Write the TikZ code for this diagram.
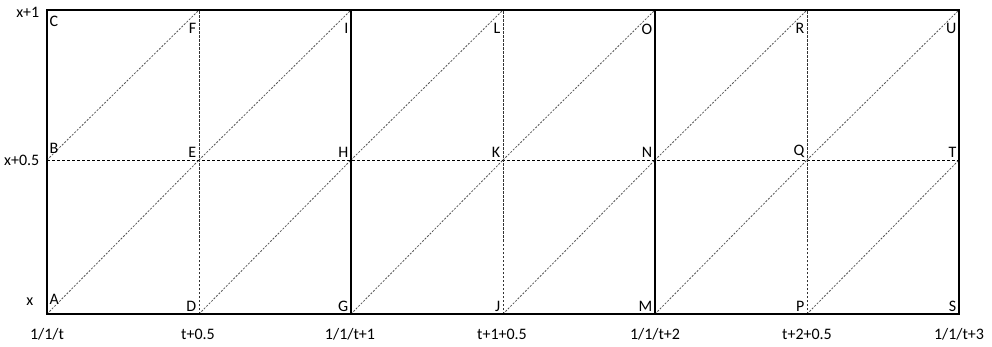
\documentclass[tikz,border=0pt]{standalone}
\usepackage{fontspec}
\setmainfont{Carlito}
\usetikzlibrary{positioning}
\definecolor{DiagGray}{RGB}{85,85,85}

\begin{document}
\begin{tikzpicture}[x=1pt,y=-1pt,
  lbl/.style={font=\fontsize{16}{18}\selectfont,inner sep=2.5pt},
  frame/.style={line width=1.8pt},
  half/.style={line width=0.7pt,dash pattern=on 3pt off 2pt},
  mid/.style={black!80,line width=0.7pt,dash pattern=on 2.5pt off 1.5pt},
  diag/.style={DiagGray,line width=0.8pt,dash pattern=on 2pt off 1.5pt}]
\useasboundingbox (0,0) rectangle (992,347);
% grid points, bottom / middle / top
\foreach \b/\m/\t [count=\i from 0] in {A/B/C,D/E/F,G/H/I,J/K/L,M/N/O,P/Q/R,S/T/U}{
  \coordinate (\b) at ({47+152*\i},314);
  \coordinate (\m) at ({47+152*\i},160);
  \coordinate (\t) at ({47+152*\i},10);
}
% lines
\draw[diag] (A)--(E) (B)--(F) (D)--(H) (E)--(I) (G)--(K) (H)--(L)
  (J)--(N) (K)--(O) (M)--(Q) (N)--(R) (P)--(T) (Q)--(U);
\draw[half] (B)--(T);
\draw[mid] (D)--(F) (J)--(L) (P)--(R);
\draw[frame] (G)--(I) (M)--(O);
\draw[frame] (A) rectangle (U);
% point labels
\node[lbl,anchor=south west,yshift=7pt] at (A) {A};
\node[lbl,anchor=south west,yshift=4pt] at (B) {B};
\node[lbl,anchor=north west,yshift=-3pt] at (C) {C};
\foreach \p in {D,E,G,H,J,K,M,N,P,Q,S,T}
  \node[lbl,anchor=south east] at (\p) {\p};
\foreach \p in {F,I,L,O,R,U}
  \node[lbl,anchor=north east,yshift=-11pt] at (\p) {\p};
% axis labels
\node[lbl,anchor=east] (y1) at (42,12) {x+1};
\node[lbl,anchor=east] (yh) at (42,160) {x+0.5};
\node[lbl,anchor=east] (y0) at (36,302) {x};
\node[lbl] (t0) at (47,334) {1/1/t};
\node[lbl] (t1) at (198,334) {t+0.5};
\node[lbl] (t2) at (350,334) {1/1/t+1};
\node[lbl] (t3) at (502,334) {t+1+0.5};
\node[lbl] (t4) at (655,334) {1/1/t+2};
\node[lbl] (t5) at (807,334) {t+2+0.5};
\node[lbl] (t6) at (959,334) {1/1/t+3};
\end{tikzpicture}
\end{document}
